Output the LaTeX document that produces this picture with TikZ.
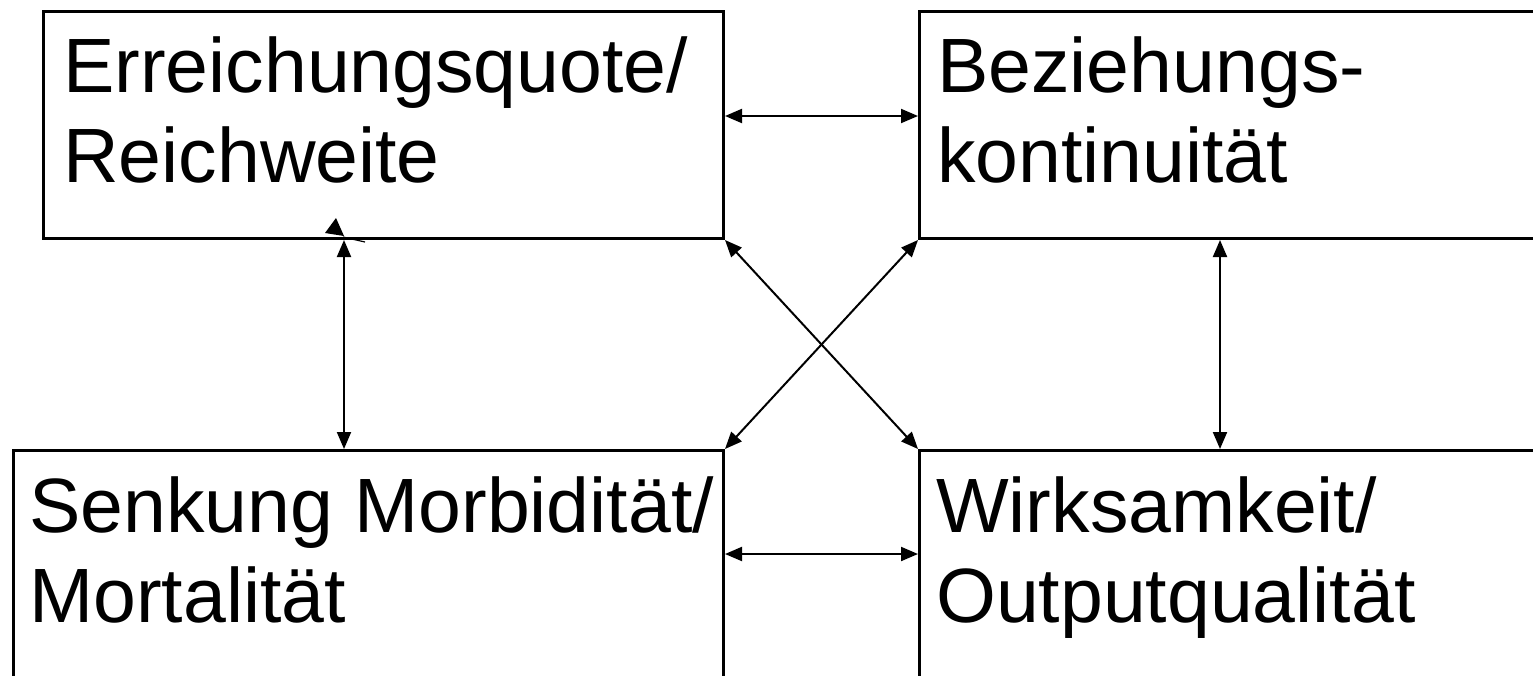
\documentclass[tikz,border=0pt]{standalone}
\usepackage{fontspec}
\setmainfont{Liberation Sans}
\usetikzlibrary{arrows.meta}
\begin{document}
\begin{tikzpicture}[x=1pt,y=-1pt,
  box/.style={draw,line width=3pt,minimum width=#1,anchor=north west,inner sep=0pt},
  lbl/.style={anchor=base west,inner sep=0pt,align=left,font=\fontsize{77}{90}\selectfont},
  link/.style={line width=2pt,{Triangle[length=17pt,width=14pt]}-{Triangle[length=17pt,width=14pt]}}]
\useasboundingbox (0,0) rectangle (1533,675);
\clip (0,0) rectangle (1533,675);
\node[box=680pt,minimum height=227pt] (TL) at (42,10) {};
\node[box=640pt,minimum height=227pt] (TR) at (918,10) {};
\node[box=710pt,minimum height=260pt] (BL) at (12,449) {};
\node[box=640pt,minimum height=260pt] (BR) at (918,449) {};
\node[lbl] (tTL) at (63,182) {Erreichungsquote/\\Reichweite};
\node[lbl] (tTR) at (937,182) {Beziehungs-\\kontinuität};
\node[lbl] (tBL) at (29,622) {Senkung Morbidität/\\Mortalität};
\node[lbl] (tBR) at (936,622) {Wirksamkeit/\\Outputqualität};
\coordinate (ytop) at (0,116);
\coordinate (ybot) at (0,554);
\coordinate (xl) at (344,0);
\coordinate (xr) at (1220,0);
\draw[link] (TL.east |- ytop) -- (TR.west |- ytop);
\draw[link] (BL.east |- ybot) -- (BR.west |- ybot);
\draw[link] (TL.south -| xl) -- (BL.north -| xl);
\draw[link] (TR.south -| xr) -- (BR.north -| xr);
\draw[link] (TL.south east) -- (BR.north west);
\draw[link] (TR.south west) -- (BL.north east);
\fill (336,218) -- (325,233) -- (344,236) -- cycle;
\draw[line width=1.2pt] (343,237) -- (365,242);
\end{tikzpicture}
\end{document}
